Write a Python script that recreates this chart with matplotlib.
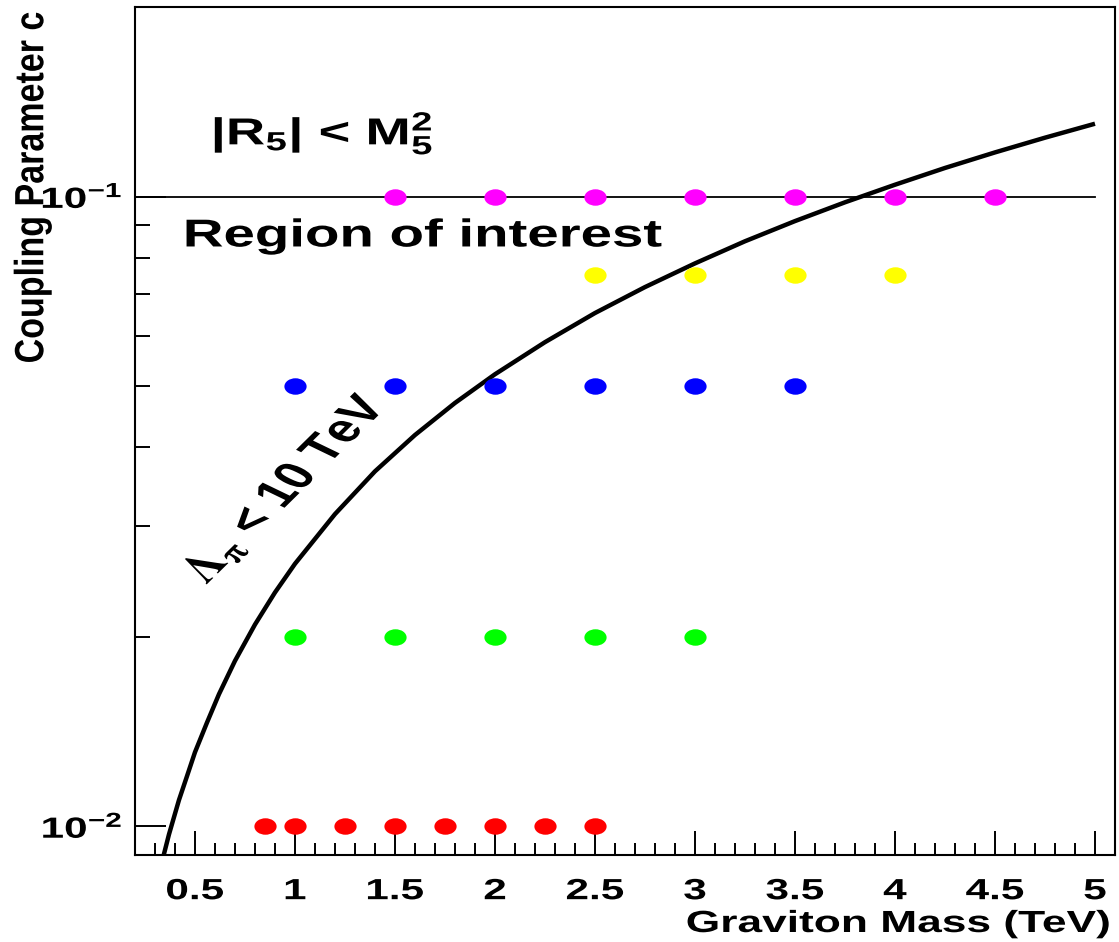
import matplotlib
matplotlib.use("Agg")
import matplotlib.pyplot as plt
import matplotlib.transforms as mtransforms
from matplotlib.path import Path
from matplotlib.patheffects import AbstractPathEffect
from matplotlib.ticker import MultipleLocator, LogLocator, NullFormatter

# graviton mass points (TeV) for each coupling value
couplings = [0.1, 0.075, 0.05, 0.02, 0.01]
mass_c0100 = [1.5, 2.0, 2.5, 3.0, 3.5, 4.0, 4.5]
mass_c0075 = [2.5, 3.0, 3.5, 4.0]
mass_c0050 = [1.0, 1.5, 2.0, 2.5, 3.0, 3.5]
mass_c0020 = [1.0, 1.5, 2.0, 2.5, 3.0]
mass_c0010 = [0.85, 1.0, 1.25, 1.5, 1.75, 2.0, 2.25, 2.5]
point_colors = ["#ff00ff", "#ffff00", "#0000ff", "#00ff00", "#ff0000"]

# Lambda_pi = 10 TeV boundary
curve_mass = [0.34, 0.37, 0.42, 0.46, 0.5, 0.56, 0.62, 0.7, 0.8, 0.9, 1.0,
              1.2, 1.4, 1.6, 1.8, 2.0, 2.25, 2.5, 2.75, 3.0, 3.25, 3.5,
              3.75, 4.0, 4.25, 4.5, 4.75, 5.0]
curve_c = [0.0089, 0.0097, 0.0110, 0.0120, 0.0131, 0.0146, 0.0162, 0.0183,
           0.0209, 0.0235, 0.0261, 0.0313, 0.0366, 0.0418, 0.0470, 0.0522,
           0.0587, 0.0653, 0.0718, 0.0783, 0.0849, 0.0914, 0.0979, 0.1044,
           0.1110, 0.1175, 0.1240, 0.1305]

xtick_vals = [0.5, 1, 1.5, 2, 2.5, 3, 3.5, 4, 4.5, 5]
xtick_text = ["0.5", "1", "1.5", "2", "2.5", "3", "3.5", "4", "4.5", "5"]

plt.rcParams["font.family"] = ["Liberation Sans", "DejaVu Sans"]
plt.rcParams["font.weight"] = "bold"
plt.rcParams["mathtext.fontset"] = "custom"
plt.rcParams["mathtext.rm"] = "Liberation Sans:bold"
plt.rcParams["mathtext.bf"] = "Liberation Sans:bold"
plt.rcParams["mathtext.it"] = "Liberation Sans:bold"
plt.rcParams["mathtext.default"] = "rm"


class Stretch(AbstractPathEffect):
    """Widen drawn text horizontally (the original canvas was stretched)."""

    def __init__(self, sx, align=0.5):
        super().__init__()
        self.sx = sx
        self.align = align

    def draw_path(self, renderer, gc, tpath, affine, rgbFace=None):
        ext = tpath.get_extents(affine)
        x0 = ext.x0 + self.align * ext.width
        extra = mtransforms.Affine2D().translate(-x0, 0).scale(self.sx, 1).translate(x0, 0)
        renderer.draw_path(gc, tpath, affine + extra, rgbFace)


SX = 1.45

circ = Path.unit_circle()
ellipse = Path(circ.vertices * [1.35, 1.0], circ.codes)

fig = plt.figure(figsize=(11.19, 9.42), dpi=100)
ax = fig.add_axes([0.1206, 0.0924, 0.8758, 0.9002])

series = [mass_c0100, mass_c0075, mass_c0050, mass_c0020, mass_c0010]
for masses, c, col in zip(series, couplings, point_colors):
    ax.plot(masses, [c] * len(masses), ls="none", marker=ellipse,
            markersize=16, color=col, markeredgewidth=0, zorder=4)

ax.axhline(0.1, xmin=0, xmax=(5.0 - 0.2) / 4.9, color="black", lw=1.3, zorder=2)
ax.plot(curve_mass, curve_c, color="black", lw=3.2, zorder=3,
        solid_capstyle="butt")

ax.set_yscale("log")
ax.set_xlim(0.2, 5.1)
ax.set_ylim(0.009, 0.2)

ax.xaxis.set_minor_locator(MultipleLocator(0.1))
ax.yaxis.set_major_locator(LogLocator(base=10))
ax.yaxis.set_minor_locator(LogLocator(base=10, subs=range(2, 10)))
ax.yaxis.set_minor_formatter(NullFormatter())
ax.set_xticks(xtick_vals)
ax.set_xticklabels(xtick_text)

ax.tick_params(axis="x", which="major", direction="in", length=17, width=1.4,
               labelsize=21, pad=16, top=False)
ax.tick_params(axis="x", which="minor", direction="in", length=9, width=1.4,
               top=False)
ax.tick_params(axis="y", which="major", direction="in", length=22, width=1.4,
               labelsize=21, pad=9, right=False)
ax.tick_params(axis="y", which="minor", direction="in", length=11, width=1.4,
               right=False)
for sp in ax.spines.values():
    sp.set_linewidth(1.5)

for lbl in ax.get_xticklabels():
    lbl.set_path_effects([Stretch(SX, 0.5)])
for lbl in ax.get_yticklabels():
    lbl.set_path_effects([Stretch(SX, 1.0)])

t1 = ax.text(0.585, 0.121, r"$|R_5|$ < $M_5^2$", fontsize=27, va="baseline")
t1.set_path_effects([Stretch(SX, 0.0)])
t2 = ax.text(0.445, 0.0833, "Region of interest", fontsize=28, va="baseline")
t2.set_path_effects([Stretch(SX, 0.0)])
t3 = ax.text(0.945, 0.0343, r"$\Lambda_{\pi}$ < 10 TeV", fontsize=28,
             rotation=55, ha="center", va="center", rotation_mode="anchor",
             math_fontfamily="stix")
t3.set_path_effects([Stretch(SX, 0.5)])

t4 = fig.text(1110 / 1119, 1 - 932 / 942, "Graviton Mass (TeV)", fontsize=22,
              ha="right", va="baseline")
t4.set_path_effects([Stretch(SX, 1.0)])
t5 = fig.text(33 / 1119, 1 - 12 / 942, "Coupling Parameter c", fontsize=24.5,
              rotation=90, ha="center", va="top")
t5.set_path_effects([Stretch(1.2, 0.5)])

fig.savefig("out.png", dpi=100)
